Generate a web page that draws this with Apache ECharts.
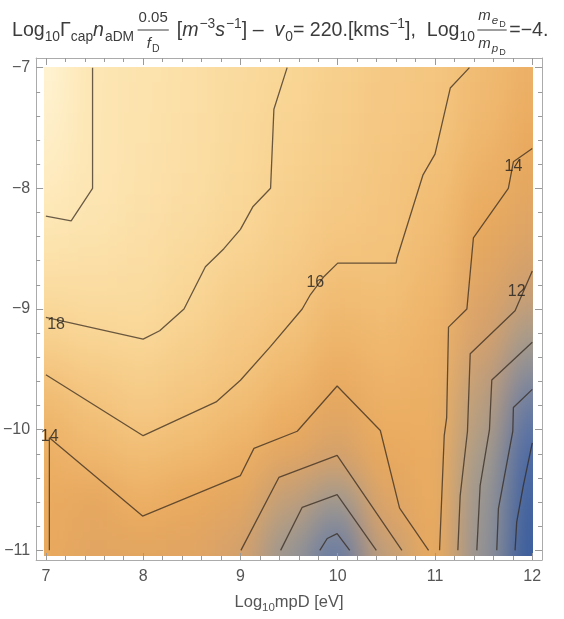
<!DOCTYPE html>
<html>
<head>
<meta charset="utf-8">
<script src="https://cdn.jsdelivr.net/npm/echarts@6.0.0/dist/echarts.min.js"></script>
<style>
  html, body { margin:0; padding:0; background:#ffffff; }
  #wrap { position:relative; width:564px; height:619px; overflow:hidden; background:#ffffff; }
  #bg { position:absolute; left:0; top:0; width:564px; height:619px; filter:blur(15px); }
  #main { position:absolute; left:0; top:0; width:564px; height:619px; }
</style>
</head>
<body>
<div id="wrap"><div id="bg"></div><div id="main"></div></div>
<script>
// ---------------- data ----------------
const xNodes = [7, 7.5, 8, 8.5, 9, 9.5, 10, 10.5, 11, 11.5, 12];
const yNodes = [-7, -7.25, -7.5, -7.75, -8, -8.25, -8.5, -8.75, -9, -9.25, -9.5, -9.75, -10, -10.25, -10.5, -10.75, -11];
// one row per x node, values along yNodes (estimated from the shading and contours)
const zGrid = [
  [22.0, 21.8, 21.4, 21.0, 20.5, 19.95, 19.4, 18.8, 18.15, 17.3, 16.2, 15.4, 14.8, 14.4, 14.2, 14.1, 14.05],
  [19.9, 19.9, 19.9, 19.85, 19.8, 19.6, 19.2, 18.8, 18.4, 17.8, 16.9, 16.1, 15.5, 14.9, 13.8, 13.5, 13.3],
  [19.5, 19.45, 19.4, 19.35, 19.25, 19.1, 18.9, 18.7, 18.45, 18.0, 17.3, 16.8, 16.1, 15.4, 14.7, 13.9, 13.3],
  [19.0, 19.0, 18.95, 18.9, 18.8, 18.6, 18.4, 18.15, 17.75, 17.3, 16.8, 16.25, 15.7, 15.0, 14.15, 13.6, 13.2],
  [18.5, 18.45, 18.4, 18.3, 18.2, 18.05, 17.7, 17.3, 16.9, 16.5, 16.15, 15.6, 15.0, 14.4, 13.6, 12.8, 12.0],
  [17.95, 17.85, 17.7, 17.55, 17.4, 17.2, 17.0, 16.7, 16.3, 15.8, 15.3, 14.7, 14.1, 12.8, 11.5, 10.5, 9.6],
  [17.3, 17.2, 17.1, 16.95, 16.8, 16.55, 16.2, 15.75, 15.3, 14.85, 14.3, 13.6, 12.8, 11.8, 10.2, 8.7, 7.3],
  [16.7, 16.6, 16.5, 16.4, 16.3, 16.2, 16.05, 15.8, 15.5, 15.2, 14.9, 14.55, 14.2, 13.8, 13.0, 12.2, 11.2],
  [16.4, 16.3, 16.15, 15.95, 15.7, 15.5, 15.3, 15.1, 14.9, 14.75, 14.6, 14.45, 14.35, 14.25, 14.2, 14.1, 14.05],
  [15.4, 15.3, 15.1, 14.8, 14.45, 14.05, 13.55, 13.05, 12.55, 12.0, 11.4, 10.95, 10.55, 10.05, 9.7, 9.5, 9.35],
  [14.6, 14.4, 14.15, 13.85, 13.5, 13.0, 12.4, 11.8, 11.0, 10.05, 8.9, 7.6, 6.4, 5.5, 5.0, 4.6, 4.3]
];

// contour polylines, in data units [log10 mpD, y]
const contour20 = [[7.48, -7], [7.48, -8.0], [7.26, -8.27], [7, -8.23]];
const contour18 = [[7, -9.07], [8, -9.25], [8.17, -9.18], [8.42, -9.0], [8.64, -8.65], [8.83, -8.5], [9, -8.34], [9.13, -8.15], [9.31, -8.0], [9.344, -7.345], [9.48, -7]];
const contour16 = [[7, -9.545], [8, -10.05], [8.75, -9.77], [9, -9.59], [9.31, -9.31], [9.635, -9.0], [9.72, -8.88], [9.86, -8.73], [10, -8.62], [10.6, -8.62], [10.61, -8.577], [10.877, -7.888], [11.0, -7.716], [11.157, -7.169], [11.354, -7]];
const contour14Right = [[12, -7.67], [11.806, -7.78], [11.754, -8.0], [11.395, -8.41], [11.328, -9.0], [11.139, -9.15], [11.12, -9.9], [11.095, -10.05], [11.047, -11]];
const contour14Low = [[7.036, -11], [7.036, -10.066], [7.994, -10.716], [9.0, -10.38], [9.139, -10.155], [9.584, -10.013], [9.994, -9.638], [10.438, -10.007], [10.636, -10.65], [10.934, -11]];
const contour12Right = [[12, -8.686], [11.823, -9.015], [11.362, -9.371], [11.334, -10.013], [11.259, -10.546], [11.235, -11]];
const contour12Low = [[9.005, -11], [9.395, -10.396], [9.994, -10.213], [10.66, -11]];
const contour10Right = [[12, -9.275], [11.584, -9.589], [11.56, -10.0], [11.464, -10.464], [11.43, -11]];
const contour10Low = [[9.413, -11], [9.635, -10.643], [9.994, -10.538], [10.397, -11]];
const contour8Right = [[12, -9.666], [11.806, -9.816], [11.8, -10.013], [11.652, -10.655], [11.635, -11]];
const contour8Low = [[9.816, -11], [9.892, -10.902], [9.994, -10.861], [10.124, -11]];
const contour6Right = [[12, -10.109], [11.908, -10.464], [11.84, -10.766], [11.823, -11]];
const contourLines = [contour20, contour18, contour16, contour14Right, contour14Low, contour12Right, contour12Low, contour10Right, contour10Low, contour8Right, contour8Low, contour6Right];

// contour labels
const labelText = ['18', '16', '14', '12', '14'];
const labelX = [7.105, 9.77, 11.806, 11.84, 7.04];
const labelY = [-9.13, -8.785, -7.818, -8.854, -10.06];

// ticks
const xTickValues = [7, 8, 9, 10, 11, 12];
const yTickValues = [-11, -10, -9, -8, -7];

// ---------------- styling ----------------
const FONT = '"Liberation Sans", Arial, Helvetica, sans-serif';
const X_MIN = 6.9, X_MAX = 12.1, Y_MIN = -11.08, Y_MAX = -6.92;
const GRID = { left: 35, right: 22, top: 58, bottom: 54 };
const FRAME = '#ababab', TICK = '#9a9a9a', LABEL = '#555555', TITLE = '#3c3c3c';
const LINE = 'rgba(48,38,28,0.72)';
const PALETTE = ['#35599c', '#4f6ca6', '#7381a1', '#a19a8f', '#d4a06c', '#e9a95d', '#f3c27b', '#f9d696', '#fde7b6', '#fff3d2'];

function minorTicks(a, b, step, majors) {
  const out = [];
  const n = Math.round((b - a) / step);
  for (let i = 0; i <= n; i++) {
    const v = Math.round((a + i * step) * 1000) / 1000;
    if (majors.indexOf(v) < 0) out.push(v);
  }
  return out;
}
const xMinor = minorTicks(7, 12, 0.2, xTickValues);
const yMinor = minorTicks(-11, -7, 0.2, yTickValues);
const fmt = v => (v < 0 ? '\u2212' : '') + Math.abs(v);

// ---------------- background shading ----------------
const cells = [];
xNodes.forEach((x, ix) => yNodes.forEach((y, iy) => cells.push([x, y, zGrid[ix][iy], ix, iy])));

const bg = echarts.init(document.getElementById('bg'), null, { renderer: 'canvas' });
bg.setOption({
  animation: false,
  grid: GRID,
  xAxis: { type: 'value', min: X_MIN, max: X_MAX, show: false },
  yAxis: { type: 'value', min: Y_MIN, max: Y_MAX, show: false },
  visualMap: { show: false, type: 'continuous', min: 4, max: 22, dimension: 2, seriesIndex: 0, inRange: { color: PALETTE } },
  series: [{
    type: 'custom',
    data: cells,
    clip: false,
    renderItem: function (params, api) {
      const x = api.value(0), y = api.value(1), ix = api.value(3), iy = api.value(4);
      const a = api.coord([x - 0.25, y + 0.125]);
      const b = api.coord([x + 0.25, y - 0.125]);
      let x0 = a[0] - 0.6, x1 = b[0] + 0.6, y0 = a[1] - 0.6, y1 = b[1] + 0.6;
      const E = 90;
      if (ix === 0) x0 -= E;
      if (ix === xNodes.length - 1) x1 += E;
      if (iy === 0) y0 -= E;
      if (iy === yNodes.length - 1) y1 += E;
      return { type: 'rect', shape: { x: x0, y: y0, width: x1 - x0, height: y1 - y0 }, style: { fill: api.visual('color') } };
    }
  }]
});
const tl = bg.convertToPixel({ xAxisIndex: 0, yAxisIndex: 0 }, [7, -7]);
const br = bg.convertToPixel({ xAxisIndex: 0, yAxisIndex: 0 }, [12, -11]);
document.getElementById('bg').style.clipPath =
  'inset(' + tl[1] + 'px ' + (564 - br[0]) + 'px ' + (619 - br[1]) + 'px ' + tl[0] + 'px)';

// ---------------- title layout ----------------
const mctx = document.createElement('canvas').getContext('2d');
function fontOf(p) { return (p.i ? 'italic ' : '') + p.z + 'px ' + FONT; }
function widthOf(p) { mctx.font = fontOf(p); return mctx.measureText(p.t).width + (p.i ? 1 : 0); }
function runWidth(run) { return run.reduce((s, p) => s + widthOf(p), 0); }
const T = 19.6, S = 13.8;
const titleParts = [
  { t: 'Log', z: T }, { t: '10', z: S, dy: 4.5 }, { t: '\u0393', z: T }, { t: 'cap', z: S, dy: 4.5 },
  { t: 'n', z: T, i: 1 }, { t: 'aDM', z: S, dy: 4.5 }, { gap: 3 },
  { frac: { num: [{ t: '0.05', z: 15 }], den: [{ t: 'f', z: 15, i: 1 }, { t: 'D', z: 10.5, dy: 3.5 }], up: 14, down: 12, axis: 7 } },
  { t: ' [', z: T }, { t: 'm', z: T, i: 1 }, { t: '\u22123', z: S, dy: -8 }, { t: 's', z: T, i: 1 }, { t: '\u22121', z: S, dy: -8 },
  { t: '] \u2013  ', z: T }, { t: 'v', z: T, i: 1 }, { t: '0', z: S, dy: 4.5 }, { t: '= 220.[kms', z: T }, { t: '\u22121', z: S, dy: -8 },
  { t: '],  Log', z: T }, { t: '10', z: S, dy: 4.5 }, { gap: 2 },
  { frac: { num: [{ t: 'm', z: 15, i: 1 }, { t: 'e', z: 11.5, i: 1, dy: 3.5 }, { t: 'D', z: 9, dy: 7 }],
            den: [{ t: 'm', z: 15, i: 1 }, { t: 'p', z: 11.5, i: 1, dy: 3.5 }, { t: 'D', z: 9, dy: 7 }], up: 16, down: 12, axis: 7 } },
  { t: '=\u22124.', z: T }
];
function buildTitle(x0, base) {
  const els = [];
  let x = x0;
  function put(p, px, pb) {
    els.push({ type: 'text', x: px, y: pb + (p.dy || 0) - 0.3465 * p.z, silent: true,
      style: { text: p.t, font: fontOf(p), fill: TITLE, align: 'left', verticalAlign: 'middle' } });
    return widthOf(p);
  }
  titleParts.forEach(p => {
    if (p.gap) { x += p.gap; return; }
    if (p.frac) {
      const f = p.frac;
      const wn = runWidth(f.num), wd = runWidth(f.den);
      const w = Math.max(wn, wd) + 3;
      let xn = x + (w - wn) / 2; f.num.forEach(q => { xn += put(q, xn, base - f.up); });
      let xd = x + (w - wd) / 2; f.den.forEach(q => { xd += put(q, xd, base + f.down); });
      els.push({ type: 'line', silent: true, shape: { x1: x + 0.5, y1: base - f.axis, x2: x + w - 0.5, y2: base - f.axis },
        style: { stroke: TITLE, lineWidth: 1 } });
      x += w + 2;
      return;
    }
    x += put(p, x, base);
  });
  return els;
}

// ---------------- main chart ----------------
const tickAxis = (dim, pos, major, withLine) => ({
  type: 'value', min: dim === 'x' ? X_MIN : Y_MIN, max: dim === 'x' ? X_MAX : Y_MAX, position: pos,
  axisLine: { show: withLine, onZero: false, lineStyle: { color: FRAME, width: 1 } },
  axisTick: { show: true, inside: true, length: major ? 7 : 4, customValues: major ? (dim === 'x' ? xTickValues : yTickValues) : (dim === 'x' ? xMinor : yMinor), lineStyle: { color: TICK, width: 1 } },
  axisLabel: { show: false },
  splitLine: { show: false }
});

const xBottom = tickAxis('x', 'bottom', true, true);
xBottom.axisLabel = { show: true, customValues: xTickValues, margin: 9, fontSize: 16, color: LABEL, fontFamily: FONT, formatter: fmt };
xBottom.name = '{a|Log}{b|10}{a|mpD [eV]}';
xBottom.nameLocation = 'middle';
xBottom.nameGap = 31;
xBottom.nameTextStyle = { color: LABEL, fontFamily: FONT, fontSize: 16,
  rich: { a: { fontSize: 16.5, color: LABEL, fontFamily: FONT }, b: { fontSize: 11.5, color: LABEL, fontFamily: FONT, padding: [11, 0, 0, 0] } } };
const yLeft = tickAxis('y', 'left', true, true);
yLeft.axisLabel = { show: true, customValues: yTickValues, margin: 6, fontSize: 16, color: LABEL, fontFamily: FONT, formatter: fmt };

const series = contourLines.map((pts, k) => ({
  type: 'line', name: 'c' + k, data: pts, xAxisIndex: 0, yAxisIndex: 0,
  showSymbol: false, symbol: 'none', smooth: false, silent: true,
  lineStyle: { color: LINE, width: 1.3 }, z: 3
}));
series.push({
  type: 'scatter', xAxisIndex: 0, yAxisIndex: 0, symbolSize: 1, silent: true, z: 5,
  itemStyle: { color: 'rgba(0,0,0,0)' },
  data: labelText.map((t, i) => [labelX[i], labelY[i], t]),
  label: { show: true, position: 'inside', formatter: p => p.value[2], fontSize: 16, color: '#1e1e1e', fontFamily: FONT }
});

const main = echarts.init(document.getElementById('main'), null, { renderer: 'canvas' });
main.setOption({
  animation: false,
  backgroundColor: 'transparent',
  grid: GRID,
  xAxis: [xBottom, tickAxis('x', 'bottom', false, false), tickAxis('x', 'top', true, true), tickAxis('x', 'top', false, false)],
  yAxis: [yLeft, tickAxis('y', 'left', false, false), tickAxis('y', 'right', true, true), tickAxis('y', 'right', false, false)],
  series: series,
  graphic: buildTitle(12, 37)
});
</script>
</body>
</html>
